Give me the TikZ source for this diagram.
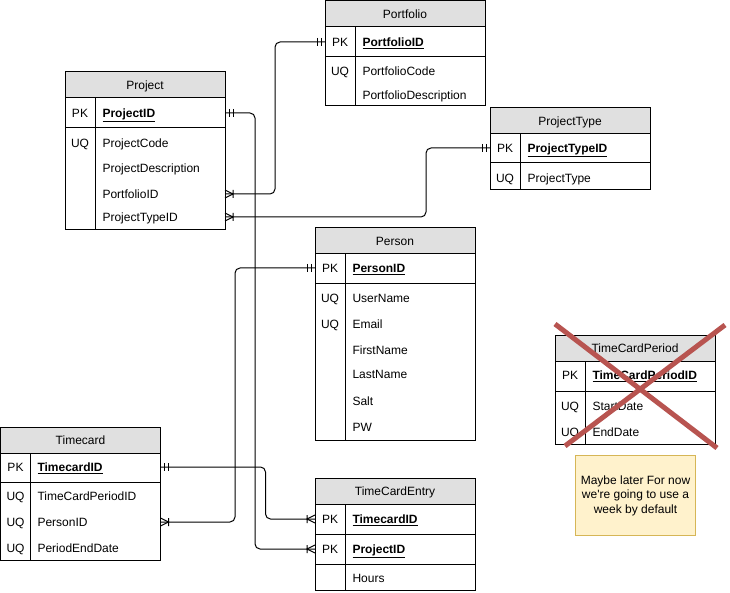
\documentclass[tikz,border=0pt]{standalone}
\usepackage{fontspec}
\setmainfont{Liberation Sans}
\newfontfamily\notefont{Liberation Sans}[Ligatures=ResetAll]
\usetikzlibrary{calc}
\definecolor{hdrgray}{RGB}{224,224,224}
\definecolor{xred}{HTML}{B85450}
\definecolor{notefill}{HTML}{FFF2CC}
\definecolor{noteline}{HTML}{D6B656}
\newcommand\pkf[1]{\underline{\textbf{#1}}}
\begin{document}
\begin{tikzpicture}[x=1pt,y=-1pt, line width=1pt,
  every node/.style={font=\fontsize{12}{14}\selectfont},
  box/.style={draw, fill=white, minimum width=160pt, anchor=north west, inner sep=0pt, outer sep=0pt},
  hdr/.style={draw, fill=hdrgray, minimum width=160pt, minimum height=26pt, anchor=north west, inner sep=0pt, outer sep=0pt, text height=10pt, text depth=0.5pt},
  key/.style={inner sep=0pt, text height=9.5pt, text depth=1pt},
  fld/.style={anchor=west, inner sep=0pt, text height=9.5pt, text depth=1pt},
  conn/.style={draw, line width=1pt, rounded corners=5pt},
  pics/crow/.style={code={\draw[line width=1pt] (0,-4)--(8,0)--(0,4) (8,-4)--(8,4);}},
  pics/mand/.style={code={\draw[line width=1pt] (4,-4)--(4,4) (8,-4)--(8,4);}},
]
\useasboundingbox (0,0) rectangle (730,593);

% ---------- Portfolio ----------
\node[box, minimum height=105pt] (portfolio) at (325,1) {};
\node[hdr] (portfolioH) at (portfolio.north west) {Portfolio};
\draw ($(portfolio.north west)+(0,56)$) -- ($(portfolio.north east)+(0,56)$);
\draw ($(portfolioH.south west)+(30,0)$) -- ($(portfolio.south west)+(30,0)$);
\node[key] at (340,42) {PK};
\node[fld] (pfID) at (362,42) {\pkf{PortfolioID}};
\node[key] at (340,71) {UQ};
\node[fld] at (362,71) {PortfolioCode};
\node[fld] at (362,95) {PortfolioDescription};

% ---------- Project ----------
\node[box, minimum height=158pt] (project) at (65,72) {};
\node[hdr] (projectH) at (project.north west) {Project};
\draw ($(project.north west)+(0,56)$) -- ($(project.north east)+(0,56)$);
\draw ($(projectH.south west)+(30,0)$) -- ($(project.south west)+(30,0)$);
\node[key] at (80,113) {PK};
\node[fld] (prjID) at (102,113) {\pkf{ProjectID}};
\node[key] at (80,143) {UQ};
\node[fld] at (102,143) {ProjectCode};
\node[fld] at (102,168) {ProjectDescription};
\node[fld] (prjPF) at (102,194) {PortfolioID};
\node[fld] (prjPT) at (102,217) {ProjectTypeID};

% ---------- ProjectType ----------
\node[box, minimum height=82pt] (ptype) at (490,108) {};
\node[hdr] (ptypeH) at (ptype.north west) {ProjectType};
\draw ($(ptype.north west)+(0,55)$) -- ($(ptype.north east)+(0,55)$);
\draw ($(ptypeH.south west)+(30,0)$) -- ($(ptype.south west)+(30,0)$);
\node[key] at (505,148) {PK};
\node[fld] (ptID) at (527,148) {\pkf{ProjectTypeID}};
\node[key] at (505,178) {UQ};
\node[fld] at (527,178) {ProjectType};

% ---------- Person ----------
\node[box, minimum height=212pt] (person) at (315,228) {};
\node[hdr] (personH) at (person.north west) {Person};
\draw ($(person.north west)+(0,56)$) -- ($(person.north east)+(0,56)$);
\draw ($(personH.south west)+(30,0)$) -- ($(person.south west)+(30,0)$);
\node[key] at (330,268) {PK};
\node[fld] (psID) at (352,268) {\pkf{PersonID}};
\node[key] at (330,298) {UQ};
\node[fld] at (352,298) {UserName};
\node[key] at (330,324) {UQ};
\node[fld] at (352,324) {Email};
\node[fld] at (352,350) {FirstName};
\node[fld] at (352,374) {LastName};
\node[fld] at (352,401) {Salt};
\node[fld] at (352,427) {PW};

% ---------- TimeCardPeriod ----------
\node[box, minimum height=109pt] (tcp) at (555,335) {};
\node[hdr] (tcpH) at (tcp.north west) {TimeCardPeriod};
\draw ($(tcp.north west)+(0,56)$) -- ($(tcp.north east)+(0,56)$);
\draw ($(tcpH.south west)+(30,0)$) -- ($(tcp.south west)+(30,0)$);
\node[key] at (570,375) {PK};
\node[fld] at (592,375) {\pkf{TimeCardPeriodID}};
\node[key] at (570,406) {UQ};
\node[fld] at (592,406) {StartDate};
\node[key] at (570,432) {UQ};
\node[fld] at (592,432) {EndDate};
\draw[xred, line width=5pt] (555,324) -- (717,448);
\draw[xred, line width=5pt] (725,325) -- (565,446);

% ---------- Note ----------
\node[draw=noteline, fill=notefill, minimum width=120pt, minimum height=80pt, anchor=north west,
      inner sep=0pt, align=center, font=\notefont\fontsize{12}{14.5}\selectfont] (note) at (575,455)
      {Maybe later For now\\we're going to use a\\week by default};

% ---------- Timecard ----------
\node[box, minimum height=133pt] (timecard) at (0.5,427) {};
\node[hdr] (timecardH) at (timecard.north west) {Timecard};
\draw ($(timecard.north west)+(0,55)$) -- ($(timecard.north east)+(0,55)$);
\draw ($(timecardH.south west)+(30,0)$) -- ($(timecard.south west)+(30,0)$);
\node[key] at (15.5,467) {PK};
\node[fld] (tcID) at (37,467) {\pkf{TimecardID}};
\node[key] at (15.5,496) {UQ};
\node[fld] at (37,496) {TimeCardPeriodID};
\node[key] at (15.5,522) {UQ};
\node[fld] (tcPS) at (37,522) {PersonID};
\node[key] at (15.5,548) {UQ};
\node[fld] at (37,548) {PeriodEndDate};

% ---------- TimeCardEntry ----------
\node[box, minimum height=112pt] (tce) at (315,478) {};
\node[hdr] (tceH) at (tce.north west) {TimeCardEntry};
\draw ($(tce.north west)+(0,56)$) -- ($(tce.north east)+(0,56)$);
\draw ($(tce.north west)+(0,86)$) -- ($(tce.north east)+(0,86)$);
\draw ($(tceH.south west)+(30,0)$) -- ($(tce.south west)+(30,0)$);
\node[key] at (330,519) {PK};
\node[fld] (teTC) at (352,519) {\pkf{TimecardID}};
\node[key] at (330,549) {PK};
\node[fld] (tePR) at (352,549) {\pkf{ProjectID}};
\node[fld] at (352,578) {Hours};

% ---------- Connectors ----------
\draw[conn] (prjPF -| project.east) -- ++(50,0) |- (pfID -| portfolio.west);
\pic at (prjPF -| project.east) {crow};
\pic[xscale=-1] at (pfID -| portfolio.west) {mand};

\draw[conn] (prjPT -| project.east) -- ++(201,0) |- (ptID -| ptype.west);
\pic at (prjPT -| project.east) {crow};
\pic[xscale=-1] at (ptID -| ptype.west) {mand};

\draw[conn] (prjID -| project.east) -- ++(30,0) |- (tePR -| tce.west);
\pic at (prjID -| project.east) {mand};
\pic[xscale=-1] at (tePR -| tce.west) {crow};

\draw[conn] (psID -| person.west) -- ++(-80,0) |- (tcPS -| timecard.east);
\pic[xscale=-1] at (psID -| person.west) {mand};
\pic at (tcPS -| timecard.east) {crow};

\draw[conn] (tcID -| timecard.east) -- ++(105,0) |- (teTC -| tce.west);
\pic at (tcID -| timecard.east) {mand};
\pic[xscale=-1] at (teTC -| tce.west) {crow};
\end{tikzpicture}
\end{document}
